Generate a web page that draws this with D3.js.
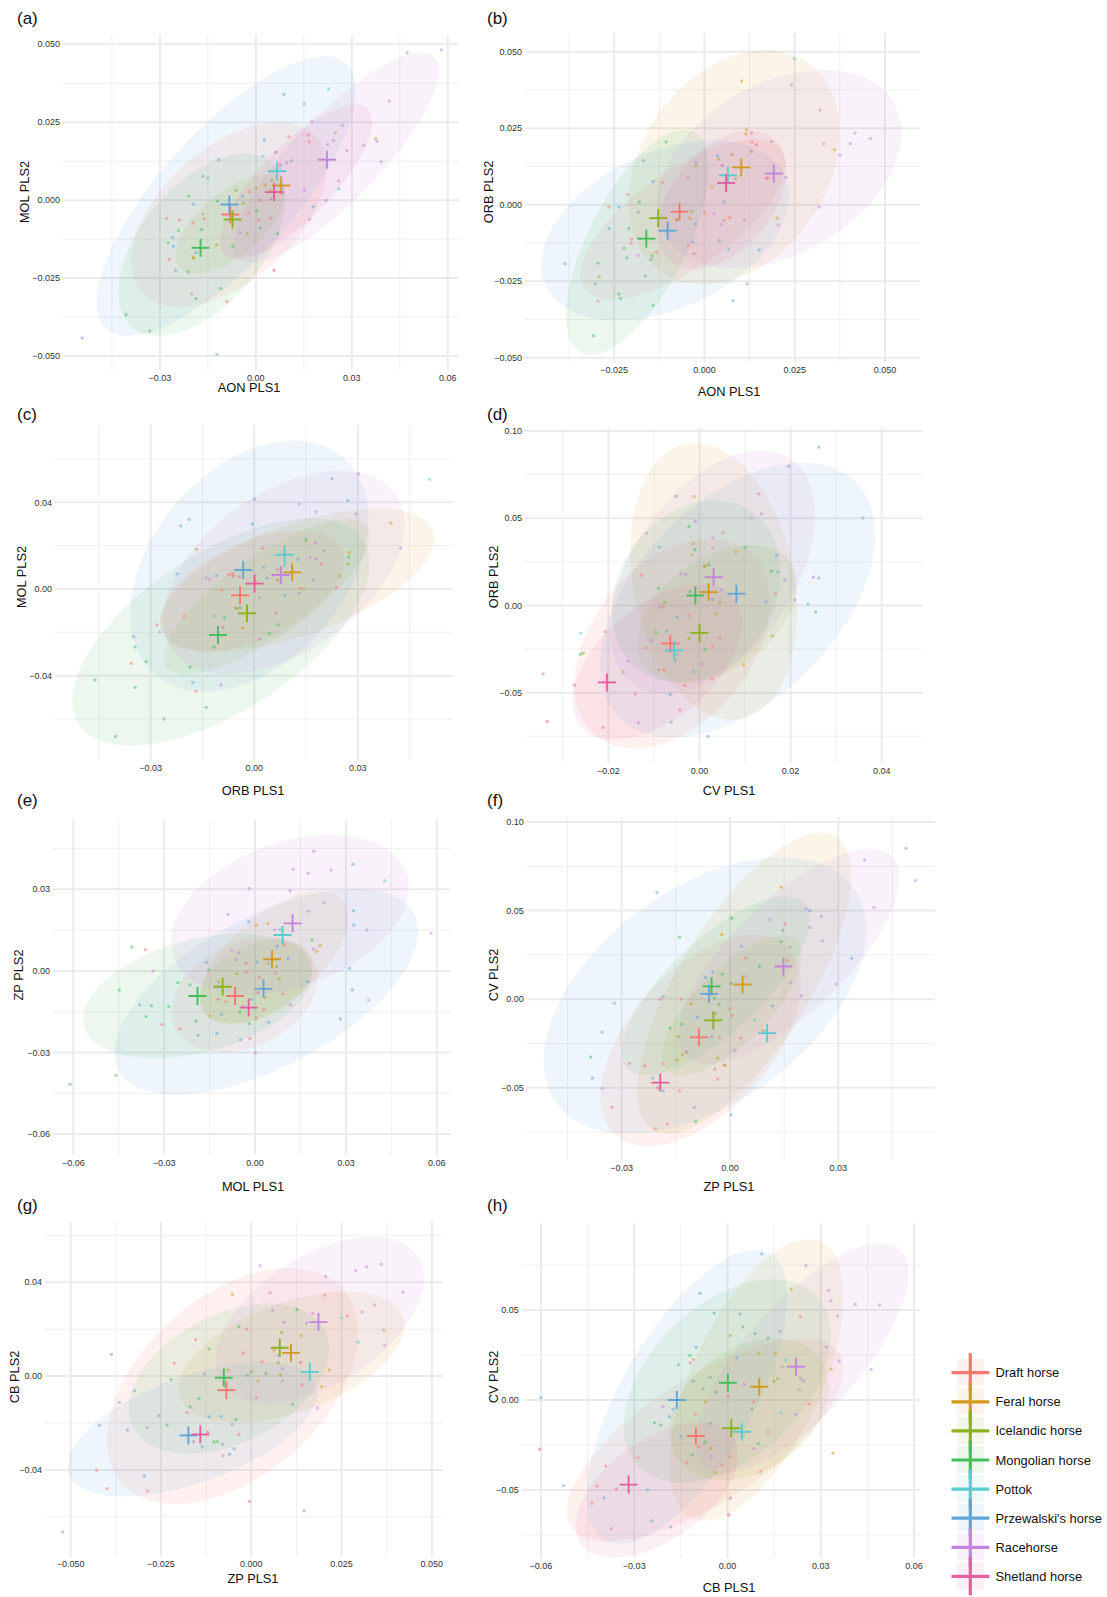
<!DOCTYPE html>
<html><head><meta charset="utf-8">
<script src="https://cdn.jsdelivr.net/npm/d3@7"></script>
<style>body{margin:0;background:#fff} text{font-family:"Liberation Sans",Arial,sans-serif}</style>
</head><body><svg id="c" width="1107" height="1597"></svg>
<script>
// ---------- DATA ----------
const groups = ["Draft horse","Feral horse","Icelandic horse","Mongolian horse","Pottok","Przewalski's horse","Racehorse","Shetland horse"];
const colors = ["#F8776E","#D29B1E","#8BB31D","#44BF5A","#5BCBD0","#62A5D8","#C384DC","#E2609F"];
const panelLabels = ["(a)","(b)","(c)","(d)","(e)","(f)","(g)","(h)"];
const xTitles = ["AON PLS1","AON PLS1","ORB PLS1","CV PLS1","MOL PLS1","ZP PLS1","ZP PLS1","CB PLS1"];
const yTitles = ["MOL PLS2","ORB PLS2","MOL PLS2","ORB PLS2","ZP PLS2","CV PLS2","CB PLS2","CV PLS2"];
const xTicks = [[-0.03,0,0.03,0.06],[-0.025,0,0.025,0.05],[-0.03,0,0.03],[-0.02,0,0.02,0.04],[-0.06,-0.03,0,0.03,0.06],[-0.03,0,0.03],[-0.05,-0.025,0,0.025,0.05],[-0.06,-0.03,0,0.03,0.06]];
const yTicks = [[-0.05,-0.025,0,0.025,0.05],[-0.05,-0.025,0,0.025,0.05],[-0.04,0,0.04],[-0.05,0,0.05,0.1],[-0.06,-0.03,0,0.03],[-0.05,0,0.05,0.1],[-0.04,0,0.04],[-0.05,0,0.05]];
const xTickFmt = [".2f",".3f",".2f",".2f",".2f",".2f",".3f",".2f"];
const yTickFmt = [".3f",".3f",".2f",".2f",".2f",".2f",".2f",".2f"];

// group means (crosses), order = groups
const meansA = [[-0.008,-0.0046],[0.0079,0.0047],[-0.0073,-0.0062],[-0.0173,-0.0153],[0.0066,0.0093],[-0.0083,-0.0014],[0.0222,0.013],[0.0057,0.0026]];
const meansB = [[-0.0069,-0.0023],[0.0102,0.0122],[-0.0128,-0.0044],[-0.0161,-0.0111],[0.0065,0.0096],[-0.0102,-0.0085],[0.0192,0.0102],[0.006,0.0071]];
const meansC = [[-0.0041,-0.0029],[0.011,0.0077],[-0.0021,-0.0112],[-0.0105,-0.0212],[0.0088,0.0158],[-0.0032,0.0088],[0.0077,0.0065],[0.0001,0.0025]];
const meansD = [[-0.0064,-0.0218],[0.002,0.0076],[0,-0.0157],[-0.0009,0.0057],[-0.0056,-0.0258],[0.0081,0.0067],[0.0031,0.0162],[-0.0203,-0.0441]];
const meansE = [[-0.0066,-0.0092],[0.0056,0.0043],[-0.0107,-0.0058],[-0.019,-0.0092],[0.0091,0.0132],[0.0028,-0.0066],[0.0124,0.0175],[-0.0021,-0.0135]];
const meansF = [[-0.0086,-0.0216],[0.0035,0.0083],[-0.0046,-0.012],[-0.0051,0.0072],[0.0103,-0.0192],[-0.0058,0.003],[0.0148,0.0184],[-0.0193,-0.0471]];
const meansG = [[-0.0069,-0.006],[0.011,0.0099],[0.0079,0.0121],[-0.0076,-0.0007],[0.0162,0.0018],[-0.0174,-0.0253],[0.0186,0.023],[-0.0141,-0.0249]];
const meansH = [[-0.0102,-0.02],[0.0102,0.0074],[0.0012,-0.0157],[0.0001,0.0096],[0.0046,-0.0176],[-0.0163,0],[0.022,0.0185],[-0.0318,-0.047]];

// ellipses: [group, centreX, centreY, majorEndX, majorEndY, minorEndX, minorEndY]
const ellipsesA = [[5,-0.0093,0.0013,0.0282,0.0439,-0.0246,0.0154],[6,0.0251,0.0136,0.0557,0.046,0.0154,0.0232],[3,-0.0169,-0.0143,0.0048,0.0122,-0.0314,-0.0019],[0,-0.0085,-0.0046,0.0187,0.0204,-0.0224,0.0113],[2,-0.008,-0.0078,0.0079,0.006,-0.0144,0],[7,0.0126,0.0059,0.0349,0.0294,0.0044,0.014]];
const ellipsesB = [[5,-0.0109,-0.0084,0.0222,0.0098,-0.0201,0.0147],[3,-0.0186,-0.0123,-0.003,0.0237,-0.0307,-0.005],[1,0.0082,0.0122,0.0285,0.0463,-0.0128,0.0296],[6,0.0207,0.0117,0.0524,0.0332,0.0089,0.0358],[7,0.0049,0.0016,0.0191,0.0217,-0.0057,0.0121],[0,-0.006,-0.0048,0.0213,0.0178,-0.0138,0.0083]];
const ellipsesC = [[5,-0.0014,0.0106,0.0259,0.0606,-0.0225,0.0398],[6,0.0086,0.0077,0.0409,0.0437,-0.0046,0.0378],[1,0.0125,0.0042,0.0518,0.0269,0.007,0.0281],[0,-0.0007,-0.0009,0.0252,0.0183,-0.0067,0.0195],[3,-0.0096,-0.0198,0.0316,0.0228,-0.0221,0.0109],[2,0.0036,-0.0035,0.0327,0.0289,-0.0031,0.0117]];
const ellipsesD = [[1,0.0031,0.0138,-0.0029,0.0926,0.0204,0.0227],[6,0.0029,0.0191,0.0202,0.0835,-0.0115,0.0455],[5,0.0084,0.0031,0.0343,0.0707,-0.0071,0.0435],[3,-0.0007,0.008,0.0116,0.0535,-0.0146,0.0334],[0,-0.006,-0.0218,0.0109,0.0308,-0.0193,0.0073],[2,0.0039,-0.0048,0.02,0.0246,-0.0031,0.0214],[7,-0.0093,-0.0325,0.0075,0.0044,-0.0173,-0.0076]];
const ellipsesE = [[6,0.0115,0.0207,0.0499,0.0363,0.0033,0.0456],[5,0.0037,-0.0077,0.0525,0.0212,-0.0079,0.0168],[3,-0.019,-0.0092,0.0185,0.002,-0.0239,0.0108],[1,0.0064,0.0049,0.029,0.026,-0.0029,0.0172],[0,-0.0035,-0.0088,0.0195,0.0032,-0.0108,0.0086],[2,0.0003,-0.004,0.0183,0.0053,-0.0047,0.0082]];
const ellipsesF = [[5,-0.0069,0.0021,0.0342,0.063,-0.0244,0.051],[1,0.004,0.009,0.0294,0.0918,-0.0113,0.0284],[6,0.0163,0.0241,0.0449,0.0804,0.0054,0.047],[0,-0.0081,-0.0233,0.0155,0.0301,-0.0227,0.0034],[3,-0.004,0.0075,0.0205,0.0542,-0.0127,0.0267],[2,0.0006,-0.0036,0.0185,0.0329,-0.0066,0.0111]];
const ellipsesG = [[6,0.0189,0.0239,0.0461,0.051,0.0092,0.0468],[0,-0.0052,-0.0043,0.0255,0.0368,-0.0215,0.0247],[1,0.0111,0.0081,0.0419,0.0253,0.0059,0.03],[5,-0.0163,-0.0227,0.0179,-0.0036,-0.0214,-0.0014],[3,-0.0062,-0.0011,0.0203,0.0196,-0.0143,0.0233]];
const ellipsesH = [[1,0.0093,0.0111,0.03,0.0878,-0.0095,0.0263],[5,-0.013,0.0017,0.0136,0.0813,-0.0313,0.02],[3,-0.0001,0.0106,0.0284,0.0582,-0.0173,0.0411],[6,0.0239,0.0232,0.0554,0.0837,0.0104,0.0443],[0,-0.0072,-0.0222,0.036,0.0261,-0.0181,0.0069],[2,0.0069,-0.0052,0.0298,0.0226,-0.0045,0.0228],[7,-0.0227,-0.05,0.0018,-0.0202,-0.0319,-0.0272]];

// individual specimens per group (order = groups)
const pointsA = [
 [[-0.0279,-0.0059],[-0.0239,-0.0064],[-0.0197,-0.0073],[-0.0271,-0.019],[-0.0201,-0.03],[-0.0091,-0.0325],[-0.0161,-0.006],[-0.002,0.0027],[0.0014,0],[0.0009,-0.0065],[0.0103,0.0204],[0.0164,0.0209],[0.0167,0.0187],[0.0047,-0.0058],[-0.0023,-0.0041]],
 [[0.0249,0.0216],[0.0374,0.0197],[-0.0195,-0.0183],[-0.0028,-0.0108],[0.0001,0.0039],[0.0047,0.0032],[0.0029,0.0049]],
 [[-0.0062,0.0032],[-0.0122,-0.0144],[0.005,0.0063],[-0.0195,-0.0186],[-0.004,-0.001]],
 [[-0.0406,-0.0367],[-0.0332,-0.042],[-0.0187,-0.0316],[-0.011,-0.0283],[-0.0211,-0.023],[-0.0274,-0.0137],[-0.0242,-0.0097],[-0.021,0.0013],[-0.017,-0.0094],[-0.012,-0.0003],[-0.0072,-0.0148],[0.0003,-0.0034],[0.0068,-0.0108]],
 [[0.0227,0.0357],[0.0259,0.0036],[0.0022,0.0141],[0.0075,0.0103]],
 [[-0.0543,-0.0442],[-0.0122,-0.0495],[0.0087,0.034],[0.0151,0.0309],[0.0026,0.0194],[-0.0117,0.013],[-0.0166,0.0077],[-0.015,0.0071],[-0.0195,-0.0013],[-0.026,-0.012],[-0.0258,-0.0148],[-0.0251,-0.0225],[-0.0187,-0.0169],[0.018,-0.0021],[0.0111,0.0126],[0.0014,-0.009],[-0.0042,0.0013]],
 [[0.0473,0.0473],[0.058,0.0482],[0.0417,0.0318],[0.0175,0.0253],[0.0271,0.024],[0.0337,0.0176],[0.0379,0.0188],[0.0392,0.0123],[0.0284,0.0159],[0.0243,0.0191],[0.0224,0.0179],[0.0259,0.0061],[0.0219,-0.0001],[0.0152,0.0032],[0.0168,-0.0062],[0.0097,0.012],[-0.0166,-0.0044],[-0.0049,-0.0105]],
 [[0.0057,-0.0225],[0.0076,0.0114],[0.0047,0.0004],[0.0083,0.0025],[0.0062,0.0154]]
];
const pointsB = [
 [[-0.0265,-0.0008],[-0.0212,0.0033],[-0.0202,-0.0113],[-0.0202,-0.0127],[-0.0295,-0.0315],[-0.0116,0.0073],[-0.0133,-0.0155],[-0.0076,-0.0049],[-0.0045,-0.0133],[-0.0029,-0.016],[0,-0.0027],[0.0075,0.0164],[0.0131,0.0234],[0.0132,0.0205],[0.0171,0.0086],[0.007,-0.0042],[0.0054,-0.0052]],
 [[0.0103,0.0404],[0.0116,0.0246],[0.0115,0.0231],[0.036,0.018],[0.0201,-0.0044],[0.0021,0.0058],[-0.004,-0.0044],[-0.0077,-0.0049]],
 [[-0.0023,0.0128],[-0.0035,-0.0021],[0.0086,0.0085],[-0.0291,-0.0236],[0.0039,0.0149]],
 [[-0.0307,-0.0428],[-0.0295,-0.0191],[-0.0237,-0.0292],[-0.0232,-0.0307],[-0.0223,-0.0142],[-0.0209,-0.0078],[-0.018,0.0009],[-0.0142,-0.0329],[-0.0145,-0.0167],[-0.0106,0.0205]],
 [[0.0249,0.0477],[0.0056,0.0071],[0.0062,0.0045]],
 [[-0.0386,-0.0193],[-0.0302,-0.0258],[-0.0264,-0.0078],[-0.0237,-0.0008],[-0.0169,0.0144],[-0.0142,0.0076],[-0.0183,-0.0025],[-0.0164,-0.0233],[-0.0148,-0.0179],[-0.0025,-0.0063],[-0.0033,-0.0122],[0.0036,0.016],[0.0055,0.001],[0.0041,-0.0117],[0.0067,-0.0145],[0.0152,-0.0149],[0.0079,-0.0314],[-0.0215,-0.0174]],
 [[0.0241,0.0391],[0.032,0.0309],[0.033,0.0199],[0.0375,0.0162],[0.0404,0.0199],[0.0417,0.0234],[0.046,0.0216],[0.0318,-0.0008],[0.0204,-0.0066],[0.0186,0.0207],[0.0226,0.0089],[0.0119,-0.0259],[0.0111,-0.0048],[0.0046,-0.0065],[0.0027,-0.0029],[-0.0045,0.0087],[-0.0023,0.0138],[-0.0184,-0.0166]],
 [[0.013,0.0174],[0.0144,0.0196],[0.0049,0.0128],[0.0175,0.0087]]
];
const pointsC = [
 [[-0.0356,-0.0343],[-0.0282,-0.0166],[-0.0204,-0.0125],[-0.0169,-0.0471],[-0.0094,-0.0005],[-0.0073,0.0066],[-0.0063,0.0071],[-0.0043,0.0057],[-0.0054,-0.0086],[0.0025,0.0188],[0.0068,0.0089],[0.0062,-0.0111],[0.0195,0.0117],[0.0238,0.0008],[0.0133,0.0003]],
 [[-0.0167,0.0183],[-0.0034,-0.0181],[0.0396,0.0305],[0.0247,0.006],[0.0276,0.0169],[0.0143,0],[0.0053,0.0065]],
 [[0.0272,0.0114],[0.015,0.0226],[-0.005,-0.009],[0.0067,0.0041]],
 [[-0.0461,-0.042],[-0.0402,-0.068],[-0.0345,-0.0268],[-0.0345,-0.0454],[-0.0313,-0.0335],[-0.0186,-0.036],[-0.0139,-0.0546],[-0.0116,-0.0269],[-0.0086,-0.0132],[-0.0041,-0.0086],[0.0044,-0.0205],[0.0069,-0.0165],[0.0273,0.0148]],
 [[0.0508,0.0506],[0.015,0.0231],[0.0088,0.011]],
 [[-0.0213,0.0292],[-0.0188,0.0321],[0.0001,0.0414],[-0.0005,0.0301],[0.0226,0.0509],[0.0271,0.0408],[-0.0224,0.0071],[-0.035,-0.022],[-0.0178,-0.0431],[-0.0261,-0.06],[-0.0116,-0.0125],[0.0037,0.0049],[0.0027,0.01],[0.0089,-0.0028],[0.0127,0.0138],[-0.0109,0.0062]],
 [[0.0302,0.0532],[0.013,0.0392],[0.018,0.0357],[0.0295,0.0346],[0.0424,0.0189],[0.0177,0.0211],[0.0202,0.0177],[0.0162,0.0146],[0.0178,0.0138],[0.0171,0.004],[0.013,-0.002],[0.0015,-0.004],[0.0015,-0.0231],[-0.014,0.0051],[-0.013,0.0045],[-0.0274,-0.0198],[-0.0096,-0.0443]],
 [[-0.009,-0.0177],[0.0005,0.003],[-0.006,0.006]]
];
const pointsD = [
 [[0.0051,0.0416],[-0.0127,0.0172],[0.001,0.0225],[-0.0081,-0.0006],[-0.0023,-0.0059],[0.0045,-0.0185],[0.0029,-0.0233],[-0.0118,-0.0243],[-0.0089,-0.0367],[-0.0078,-0.0372],[-0.0032,-0.0458],[0.0028,-0.042],[-0.0141,-0.0506],[-0.0043,-0.0598],[-0.0212,-0.0699],[-0.0343,-0.0392],[-0.0207,-0.0151],[0.0167,0.0067]],
 [[-0.0012,0.0625],[-0.0013,0.0355],[-0.0017,0.029],[0.008,0.0308],[0.0036,-0.0046],[0.016,-0.0174],[0.0097,-0.034],[-0.0168,-0.0382]],
 [[-0.0076,0.0017],[0.0045,0.0015],[-0.0023,-0.0189],[-0.0255,-0.0273],[0.0012,0.0225]],
 [[-0.0023,0.0453],[-0.001,0.0319],[0.01,0.0332],[0.002,0.0233],[0.0158,0.0197],[-0.009,0.0097],[-0.0021,0.008],[0.0255,-0.0038],[-0.0096,-0.0153],[-0.0261,-0.0279],[0.0012,-0.0252]],
 [[-0.0261,-0.016],[-0.0058,-0.022],[-0.005,-0.028]],
 [[0.0262,0.0907],[0.0359,0.0502],[-0.0051,0.0626],[-0.0088,0.0334],[0.0169,0.0288],[0.0172,0.0191],[0.0187,0.0147],[0.0146,0.0021],[0.0238,0.0006],[0.0262,0.0157],[-0.0049,-0.0067],[-0.0072,-0.0147],[-0.0053,-0.0317],[-0.0013,-0.038],[-0.0064,-0.051],[-0.0062,-0.0669],[0.0019,-0.0751],[0.0028,0.0034]],
 [[0.0196,0.0798],[0.013,0.064],[0.0136,0.0525],[0.0115,0.0502],[-0.0009,0.0481],[-0.0116,0.0414],[0.0029,0.0386],[0.0029,0.033],[-0.0041,0.0181],[-0.003,0.0178],[0.025,0.0162],[0.0209,0.0031],[0.0048,0.009],[-0.0088,-0.001],[-0.0106,-0.0201],[-0.0157,-0.0319],[0.0007,-0.0336],[-0.0134,-0.0672]],
 [[-0.0334,-0.0665],[-0.0275,-0.0456]]
];
const pointsE = [
 [[-0.0362,0.0078],[-0.0307,-0.0196],[-0.0247,-0.0213],[-0.0122,-0.0104],[-0.0096,-0.0113],[-0.003,0.0028],[-0.0029,-0.0005],[0.0014,-0.0023],[0.0067,-0.0009],[0.0091,-0.0085],[0.0029,-0.0143],[0.0004,-0.0173],[-0.0017,-0.0248],[0.0097,0.0097]],
 [[0.0004,0.0168],[0.0042,0.0174],[0.0215,0.0094],[0.0204,0.0072],[0.0044,0.0028],[-0.0148,-0.0166],[0.0033,-0.0097]],
 [[0.008,-0.0029],[0.0072,0.0016],[-0.012,-0.004],[-0.006,-0.001]],
 [[-0.0407,0.0088],[-0.0448,-0.0071],[-0.036,-0.0168],[-0.0342,-0.0128],[-0.0285,-0.0131],[-0.0255,-0.0043],[-0.0215,-0.0051],[-0.0195,-0.0184],[-0.0153,0.0004],[-0.005,-0.0152],[-0.0019,-0.0194],[-0.0459,-0.0384],[0.0188,0.0114]],
 [[0.0428,0.0332],[0.0092,0.0115],[0.0082,0.0152]],
 [[-0.0611,-0.0417],[0.0323,0.0392],[0.0325,0.0221],[0.0326,0.0169],[-0.0021,0.0181],[0.0073,0.0092],[0.011,0.0045],[0.0007,0.0032],[-0.016,0.0031],[0.0312,0.001],[0.0321,-0.0069],[0.0173,-0.0039],[0.0282,-0.0177],[-0.0381,-0.0124],[-0.0188,-0.0237],[-0.0126,-0.023],[-0.0048,-0.0254],[0.0045,-0.0189],[-0.0111,-0.0159],[-0.0011,-0.0104]],
 [[0.0194,0.044],[0.0126,0.0374],[0.0176,0.0359],[0.0251,0.0371],[-0.0019,0.0303],[0.0116,0.0295],[0.0227,0.0251],[-0.0089,0.0208],[0.0177,0.0219],[0.0369,0.0151],[0.0065,0.0151],[-0.0077,0.0076],[-0.0054,0.0067],[-0.0062,0.0042],[0.0193,0.008],[-0.0337,0],[0.0582,0.0139],[0.0375,-0.0107],[0.0117,-0.0125]],
 [[0.0001,-0.0302],[-0.004,-0.0132],[0.001,-0.008]]
];
const pointsF = [
 [[0.0152,0.0425],[0.0044,0.0233],[0.0159,0.0218],[-0.0193,0],[-0.0135,0],[0,-0.0055],[0.0006,-0.0092],[-0.0029,-0.0218],[0.003,-0.0218],[-0.0042,-0.0395],[-0.0014,-0.0371],[-0.0034,-0.045],[-0.0185,-0.0365],[-0.0236,-0.0376],[-0.0278,-0.0363],[-0.014,-0.0518],[-0.0326,-0.061],[-0.0207,-0.0732],[-0.0174,-0.0704]],
 [[0.0142,0.0632],[-0.0023,0.0365],[0.0167,0.0294],[0.009,-0.0177],[-0.0108,-0.0026],[-0.0015,-0.0373],[-0.0146,-0.0343],[-0.0131,-0.0314]],
 [[-0.0143,-0.0211],[-0.0034,-0.0333],[-0.004,-0.008]],
 [[-0.0386,-0.0326],[-0.014,0.035],[0.0005,0.0457],[0.0147,0.0388],[0.0142,0.0326],[0.0082,0.0184],[-0.0021,0.0141],[0.0003,0.0088],[-0.0043,0.0006],[-0.003,-0.003],[-0.0166,-0.0164],[-0.0134,-0.0141],[-0.0095,-0.0691]],
 [[0.0068,-0.012],[0.0096,-0.018]],
 [[-0.0202,0.0602],[0.0488,0.0851],[0.0221,0.0499],[0.0337,0.0231],[-0.032,-0.0023],[-0.0354,-0.0186],[-0.0381,-0.0446],[-0.0214,-0.0446],[-0.0185,-0.0518],[0.0003,-0.0653],[0.0032,0.0297],[-0.0068,0.0122],[-0.0048,0.0154],[-0.0185,0.0015],[-0.009,-0.0102],[0.0118,-0.0038]],
 [[0.0373,0.0785],[0.0514,0.067],[0.0399,0.0518],[0.0211,0.051],[0.0253,0.0467],[0.0221,0.0405],[0.0256,0.0329],[0.011,0.0448],[0.0168,0.0094],[0.0198,0.0019],[0.0294,0.0085],[0.0045,0.0128],[0.0014,-0.029],[-0.005,-0.0211],[-0.0099,-0.0612],[-0.0354,-0.0503]],
 [[-0.02,-0.05],[-0.012,-0.03]]
];
const pointsG = [
 [[0.0052,0.0355],[0.0204,0.0345],[0.0266,0.0257],[-0.0013,0.02],[-0.0154,0.0156],[-0.0213,0.0055],[-0.0022,0.0098],[0.003,0.006],[0.0137,0.0058],[0.014,-0.0038],[0.0014,-0.0091],[-0.0178,-0.0156],[-0.0034,-0.0249],[-0.0078,-0.034],[-0.0428,-0.0401],[-0.0399,-0.048],[-0.0288,-0.049]],
 [[-0.0052,0.0348],[0.0138,0.0172],[0.0367,0.0196],[0.0063,0.0111],[0.0216,0.0026],[0.0195,-0.0045],[0.0019,-0.0021],[-0.0065,0.0026]],
 [[0.0084,0.0186],[0.0075,0.0057],[0.0081,0.0004]],
 [[-0.0387,0.0092],[-0.0034,0.021],[-0.0117,0.0115],[0.0127,0.0284],[0.0041,0.0011],[0,0.0018],[-0.001,0.0003],[-0.0222,-0.0014],[-0.0169,-0.0131],[-0.0145,-0.0095],[-0.0233,-0.0209],[-0.0103,-0.028],[-0.0094,-0.028],[-0.0043,-0.0185]],
 [[0.0296,0.0144],[0.025,0.0249]],
 [[-0.0522,-0.0664],[-0.042,-0.021],[-0.0365,-0.0112],[-0.0343,-0.023],[-0.0323,-0.0063],[-0.0296,-0.0425],[-0.0256,-0.0169],[-0.0116,-0.0173],[-0.0083,-0.0171],[-0.0053,-0.0206],[-0.0136,-0.0301],[-0.008,-0.0291],[-0.006,-0.0333],[-0.0047,-0.031],[0.0114,-0.0121],[0.0146,-0.0574]],
 [[0.0025,0.047],[0.0289,0.045],[0.0319,0.0466],[0.036,0.0477],[0.0206,0.0425],[0.042,0.0357],[0.0342,0.0303],[0.0307,0.0273],[0.0059,0.028],[0.009,0.0229],[0.017,0.0267],[0.0153,0.0226],[0.0369,0.0131],[0.0075,0.0088],[0.0086,0.0031],[0.0086,-0.0021],[0.0183,-0.0136],[-0.0129,0.0011],[-0.0288,-0.0219]],
 [[-0.0005,-0.0534],[-0.012,-0.024],[-0.016,-0.028]]
];
const pointsH = [
 [[0.0234,0.0463],[-0.012,0.0207],[-0.011,0.0226],[0.0002,0.0019],[-0.0103,-0.0081],[0.0084,-0.0011],[0.0264,-0.0022],[-0.0093,-0.0259],[-0.0017,-0.0363],[-0.0131,-0.0348],[0.0008,-0.0315],[0.0106,-0.0398],[-0.0288,-0.032],[-0.0392,-0.0367],[-0.0419,-0.0478],[-0.0436,-0.0574],[-0.0374,-0.0715]],
 [[0.0204,0.0617],[0.0009,0.0357],[0.01,0.0259],[0.0154,0.0259],[-0.0071,-0.0011],[0.013,-0.0178],[-0.004,-0.0402],[0.0339,-0.0296],[-0.0055,-0.0269]],
 [[0.0149,0.0104],[0.0161,0.0119],[0.0333,0.0172],[0.0078,-0.005]],
 [[-0.0043,0.0483],[0.0049,0.0406],[0.0088,0.0369],[0.013,0.0343],[-0.0121,0.0248],[-0.0158,0.0196],[-0.0038,0.0044],[-0.0235,-0.0126],[-0.0215,-0.0139],[-0.0073,-0.0235],[-0.0113,-0.0304],[0.0099,-0.0241]],
 [[0.0187,0.0222],[0.0172,-0.0072],[0.005,-0.02]],
 [[0.011,0.0811],[-0.0088,0.0593],[0.0039,0.0478],[-0.0101,0.0293],[0.003,0.0235],[-0.011,0.0104],[-0.0078,0.0061],[-0.0056,0.0126],[-0.0175,-0.0052],[-0.0187,-0.0093],[-0.015,-0.0204],[-0.0054,-0.013],[-0.06,0.0013],[-0.0527,-0.0476],[-0.0398,-0.0543],[-0.0257,-0.0498],[-0.0244,-0.0672],[-0.0183,-0.0706]],
 [[0.0252,0.0746],[0.0325,0.0609],[0.0333,0.055],[0.0411,0.0532],[0.0489,0.0528],[0.0354,0.0467],[0.0318,0.0296],[0.0359,0.0217],[0.0462,0.017],[0.0177,0.0183],[0.0168,0.0382],[0.0234,0.012],[0.0243,0.0106],[0.0232,0.0059],[0.0219,-0.008],[0.0054,0.0087],[0.0085,-0.027],[-0.0051,-0.0313],[-0.0208,-0.0037]],
 [[-0.0604,-0.0274],[0.0009,-0.0546],[0.0004,-0.0639],[-0.0358,-0.0494]]
];

const allMeans = [meansA,meansB,meansC,meansD,meansE,meansF,meansG,meansH];
const allEllipses = [ellipsesA,ellipsesB,ellipsesC,ellipsesD,ellipsesE,ellipsesF,ellipsesG,ellipsesH];
const allPoints = [pointsA,pointsB,pointsC,pointsD,pointsE,pointsF,pointsG,pointsH];

// ---------- LAYOUT ----------
const layout = [
 {box:[63,459,35,370], xd:[-0.0603,0.0635], yd:[-0.0545,0.053], lab:[17,24], xt:[249,392], yt:[25,192]},
 {box:[525,920,33,362], xd:[-0.0497,0.0597], yd:[-0.0514,0.0561], lab:[487,24], xt:[729,396], yt:[489,192]},
 {box:[55,452.7,425,760], xd:[-0.0577,0.0575], yd:[-0.0789,0.0757], lab:[17,420], xt:[253,795], yt:[22,577]},
 {box:[525,922.7,428,763], xd:[-0.0383,0.049], yd:[-0.0903,0.1017], lab:[487,420], xt:[729,795], yt:[494,577]},
 {box:[53,450.7,820,1155], xd:[-0.0667,0.0646], yd:[-0.0677,0.0555], lab:[17,806], xt:[253,1191], yt:[19,975]},
 {box:[526.7,935,816.7,1160], xd:[-0.0563,0.0568], yd:[-0.0908,0.103], lab:[487,806], xt:[729,1191], yt:[494,975]},
 {box:[45,442.7,1221.7,1556.7], xd:[-0.0571,0.053], yd:[-0.077,0.0658], lab:[17,1211], xt:[253,1583], yt:[15,1377]},
 {box:[521.7,920,1223.3,1558], xd:[-0.0662,0.0619], yd:[-0.0878,0.0982], lab:[487,1211], xt:[729,1592], yt:[494,1377]}
];

const svg = d3.select("#c");
const defs = svg.append("defs");

function minorOf(ticks, dom){
  const step = ticks[1]-ticks[0];
  const out = [];
  for (let v = ticks[0]-step/2; v <= ticks[ticks.length-1]+step/2+1e-9; v += step){
    if (v >= dom[0] && v <= dom[1]) out.push(v);
  }
  return out;
}

layout.forEach((L, i) => {
  const [l, r, t, b] = L.box;
  const x = d3.scaleLinear().domain(L.xd).range([l, r]);
  const y = d3.scaleLinear().domain(L.yd).range([b, t]);
  const g = svg.append("g");
  defs.append("clipPath").attr("id", "clip"+i).append("rect")
    .attr("x", l).attr("y", t).attr("width", r-l).attr("height", b-t);

  const grid = g.append("g");
  grid.selectAll(".mx").data(minorOf(xTicks[i], L.xd)).join("line")
    .attr("x1", d=>x(d)).attr("x2", d=>x(d)).attr("y1", t).attr("y2", b)
    .attr("stroke", "#efefef").attr("stroke-width", 1);
  grid.selectAll(".my").data(minorOf(yTicks[i], L.yd)).join("line")
    .attr("y1", d=>y(d)).attr("y2", d=>y(d)).attr("x1", l).attr("x2", r)
    .attr("stroke", "#efefef").attr("stroke-width", 1);
  grid.selectAll(".Mx").data(xTicks[i]).join("line")
    .attr("x1", d=>x(d)).attr("x2", d=>x(d)).attr("y1", t).attr("y2", b)
    .attr("stroke", "#ebebeb").attr("stroke-width", 2);
  grid.selectAll(".My").data(yTicks[i]).join("line")
    .attr("y1", d=>y(d)).attr("y2", d=>y(d)).attr("x1", l).attr("x2", r)
    .attr("stroke", "#ebebeb").attr("stroke-width", 2);

  const plot = g.append("g").attr("clip-path", "url(#clip"+i+")");
  const line = d3.line().curve(d3.curveLinearClosed);
  const ells = allEllipses[i].slice().sort((a,b)=>a[0]-b[0]);
  plot.selectAll(".ell").data(ells).join("path")
    .attr("d", e => {
      const [gi, cx, cy, ax, ay, bx, by] = e;
      const ux = ax-cx, uy = ay-cy, vx = bx-cx, vy = by-cy;
      const pts = d3.range(120).map(k => {
        const th = k/120*2*Math.PI;
        return [x(cx+ux*Math.cos(th)+vx*Math.sin(th)), y(cy+uy*Math.cos(th)+vy*Math.sin(th))];
      });
      return line(pts);
    })
    .attr("fill", e => colors[e[0]]).attr("fill-opacity", 0.1).attr("stroke", "none");

  allPoints[i].forEach((pts, gi) => {
    plot.selectAll(".p"+gi).data(pts).join("circle")
      .attr("cx", d=>x(d[0])).attr("cy", d=>y(d[1])).attr("r", 1.7)
      .attr("fill", colors[gi]).attr("fill-opacity", 0.5);
  });

  const arm = 9;
  const cg = plot.selectAll(".m").data(allMeans[i]).join("g");
  cg.append("line").attr("x1", d=>x(d[0])-arm).attr("x2", d=>x(d[0])+arm)
    .attr("y1", d=>y(d[1])).attr("y2", d=>y(d[1]));
  cg.append("line").attr("x1", d=>x(d[0])).attr("x2", d=>x(d[0]))
    .attr("y1", d=>y(d[1])-arm).attr("y2", d=>y(d[1])+arm);
  cg.attr("stroke", (d,k)=>colors[k]).attr("stroke-width", 1.9);

  const fx = d3.format(xTickFmt[i]), fy = d3.format(yTickFmt[i]);
  g.selectAll(".xl").data(xTicks[i]).join("text")
    .attr("x", d=>x(d)).attr("y", b+10.5).attr("text-anchor","middle")
    .attr("font-size", 9).attr("fill", "#333").text(d=>fx(d));
  g.selectAll(".yl").data(yTicks[i]).join("text")
    .attr("x", l-3).attr("y", d=>y(d)).attr("dy","0.35em").attr("text-anchor","end")
    .attr("font-size", 9).attr("fill", "#333").text(d=>fy(d));

  g.append("text").attr("x", L.xt[0]).attr("y", L.xt[1]).attr("text-anchor","middle")
    .attr("font-size", 12.8).attr("fill","#111").text(xTitles[i]);
  g.append("text").attr("transform", `translate(${L.yt[0]},${L.yt[1]}) rotate(-90)`)
    .attr("dy","0.35em").attr("text-anchor","middle")
    .attr("font-size", 12.8).attr("fill","#111").text(yTitles[i]);
  g.append("text").attr("x", L.lab[0]).attr("y", L.lab[1])
    .attr("font-size", 17).attr("fill","#111").text(panelLabels[i]);
});

// legend
const leg = svg.append("g");
const ly0 = 1372.7, lstep = 29.1;
groups.forEach((name, k) => {
  const cy = ly0 + k*lstep;
  leg.append("rect").attr("x", 956.7).attr("y", cy-14).attr("width", 27.3).attr("height", 27)
    .attr("fill", colors[k]).attr("fill-opacity", 0.1);
});
groups.forEach((name, k) => {
  const cy = ly0 + k*lstep;
  leg.append("line").attr("x1", 970.3).attr("x2", 970.3).attr("y1", cy-19.5).attr("y2", cy+19)
    .attr("stroke", colors[k]).attr("stroke-width", 3.2);
  leg.append("line").attr("x1", 951.5).attr("x2", 989.3).attr("y1", cy).attr("y2", cy)
    .attr("stroke", colors[k]).attr("stroke-width", 3.2);
  leg.append("text").attr("x", 995.5).attr("y", cy).attr("dy","0.35em")
    .attr("font-size", 12.9).attr("fill","#111").text(name);
});
</script></body></html>
